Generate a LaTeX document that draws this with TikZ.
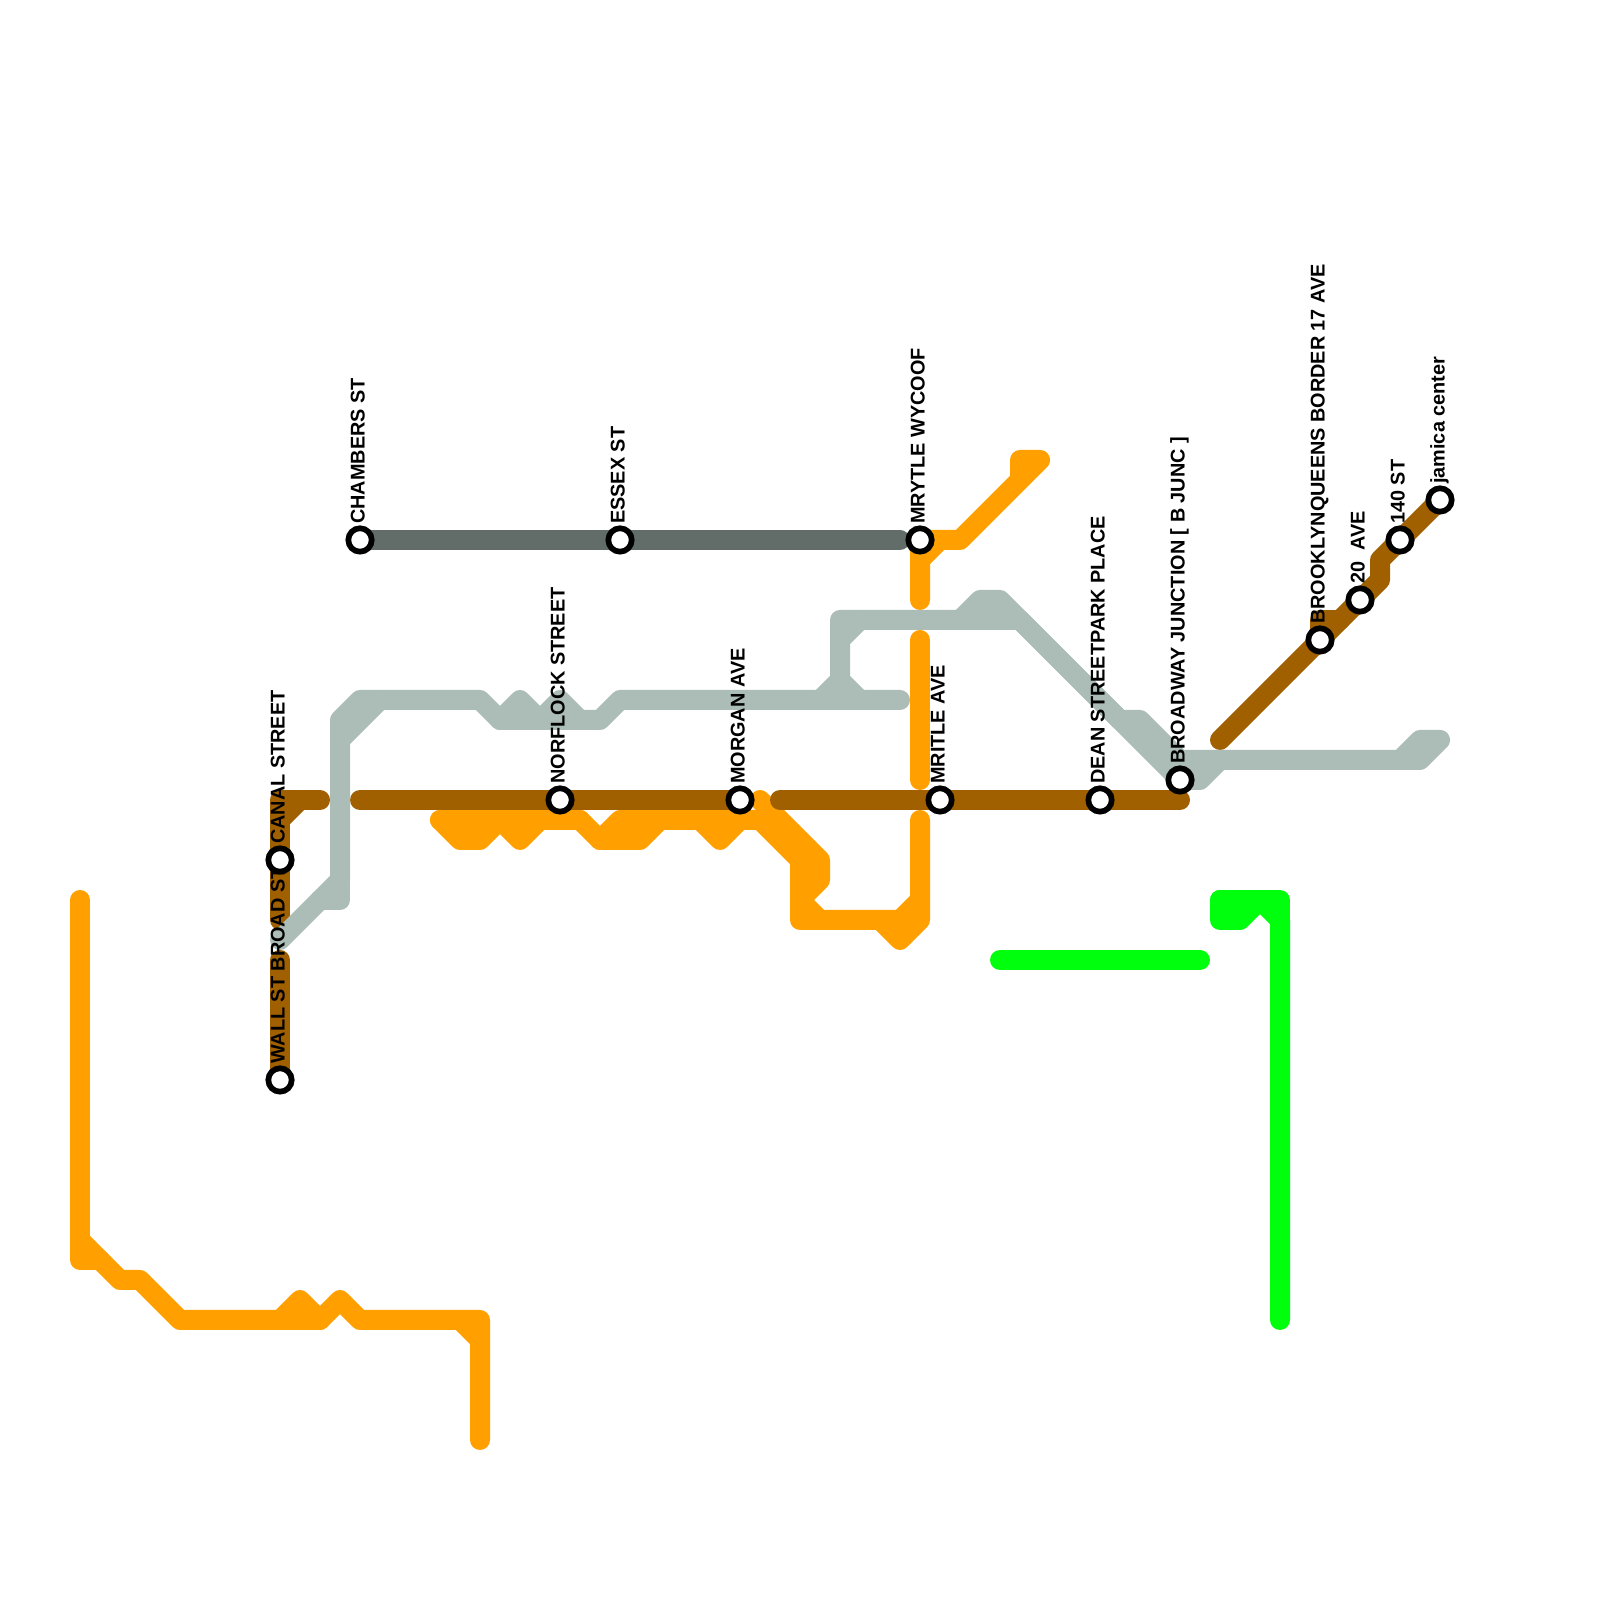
\documentclass[tikz,border=0pt]{standalone}
\usepackage{xcolor}
\usepackage{fontspec}
\setmainfont{Liberation Sans}
\definecolor{lineorange}{HTML}{FFA000}
\definecolor{linebrown}{HTML}{A06000}
\definecolor{linegray}{HTML}{ACBDB8}
\definecolor{linedark}{HTML}{626C69}
\definecolor{linegreen}{HTML}{00FF0C}
\tikzset{
    metro/.style={line width=2mm,line cap=round,line join=round},
    station/.style={circle,draw=black,fill=white,line width=0.57mm,minimum size=2.34mm,inner sep=0pt},
    stationname/.style={rotate=90,anchor=base west,inner sep=0pt,font=\fontsize{5.65}{7}\selectfont\bfseries}
}
\begin{document}
\begin{tikzpicture}
    \useasboundingbox (0,0) rectangle (16,16);
    \draw [metro,lineorange] (1,3.4)--(0.8,3.4)--(0.8,7);
    \draw [metro,lineorange] (0.8,3.6)--(1.2,3.2)--(1.4,3.2)--(1.8,2.8)--(2.8,2.8)--(3,3)--(3.2,2.8)--(3.4,3)--(3.6,2.8)--(4.8,2.8)--(4.8,1.6);
    \draw [metro,lineorange] (2.8,2.8)--(3.2,2.8);
    \draw [metro,lineorange] (4.6,2.8)--(4.8,2.6);
    \draw [metro,lineorange] (4.4,7.8)--(4.6,7.6)--(4.8,7.6)--(5,7.8)--(5.2,7.6)--(5.4,7.8)--(5.8,7.8)--(6,7.6)--(6.2,7.8)--(7.6,7.8);
    \draw [metro,lineorange] (4.4,7.8)--(5.8,7.8);
    \draw [metro,lineorange] (6,7.6)--(6.4,7.6)--(6.6,7.8);
    \draw [metro,lineorange] (7,7.8)--(7.2,7.6)--(7.4,7.8);
    \draw [metro,lineorange] (7.6,8)--(8.2,7.4)--(8.2,7.2)--(8,7);
    \draw [metro,lineorange] (7.6,7.8)--(8,7.4)--(8,6.8)--(8.8,6.8)--(9,6.6)--(9.2,6.8)--(9.2,7.8);
    \draw [metro,lineorange] (8,7)--(8.2,6.8);
    \draw [metro,lineorange] (8.8,6.8)--(9,6.8)--(9.2,7);
    \draw [metro,lineorange] (9.2,10)--(9.2,10.6)--(9.6,10.6)--(10.4,11.4)--(10.2,11.4)--(10.2,11.2);
    \draw [metro,lineorange] (9.2,10.4)--(9.4,10.6);
    \draw [metro,lineorange] (9.2,9.6)--(9.2,8.2);

    \draw [metro,linebrown] (3.2,8)--(2.8,8)--(2.8,6.8);
    \draw [metro,linebrown] (2.8,7.8)--(3,8);
    \draw [metro,linebrown] (2.8,6.4)--(2.8,5.2);
    \draw [metro,linebrown] (3.6,8)--(7.4,8);
    \draw [metro,linebrown] (7.8,8)--(11.8,8);
    \draw [metro,linebrown] (12.2,8.6)--(13.8,10.2)--(13.8,10.4)--(14.4,11);
    \draw [metro,linebrown] (13.2,9.6)--(13.2,9.8)--(13.4,9.8);

    \draw [metro,linegray] (2.8,6.6)--(3.4,7.2)--(3.4,8.8)--(3.6,9)--(4.8,9)--(5,8.8)--(6,8.8)--(6.2,9)--(9,9);
    \draw [metro,linegray] (3.2,7)--(3.4,7)--(3.4,7.2);
    \draw [metro,linegray] (3.4,8.6)--(3.8,9);
    \draw [metro,linegray] (5,8.8)--(5.2,9)--(5.4,8.8)--(5.6,9)--(5.8,8.8);
    \draw [metro,linegray] (8.2,9)--(8.4,9.2)--(8.6,9);
    \draw [metro,linegray] (8.4,9.2)--(8.4,9.8)--(10.2,9.8)--(11.8,8.2)--(12,8.2)--(12.2,8.4);
    \draw [metro,linegray] (8.4,9.6)--(8.6,9.8);
    \draw [metro,linegray] (9.6,9.8)--(9.8,10)--(10,10)--(11.2,8.8)--(11.4,8.8)--(11.8,8.4)--(14.2,8.4)--(14.4,8.6)--(14.2,8.6)--(14,8.4);

    \draw [metro,linedark] (3.6,10.6)--(9,10.6);

    \draw [metro,linegreen] (10,6.4)--(12,6.4);
    \draw [metro,linegreen] (12.2,7)--(12.2,6.8)--(12.4,6.8)--(12.6,7)--(12.8,6.8)--(12.8,2.8);
    \draw [metro,linegreen] (12.2,7)--(12.8,7)--(12.8,6.8);

    \node[station] (S1) at (2.8,5.2) {};
    \node[station] (S2) at (2.8,7.4) {};
    \node[station] (S3) at (3.6,10.6) {};
    \node[station] (S4) at (5.6,8) {};
    \node[station] (S5) at (6.2,10.6) {};
    \node[station] (S6) at (7.4,8) {};
    \node[station] (S7) at (9.2,10.6) {};
    \node[station] (S8) at (9.4,8) {};
    \node[station] (S9) at (11,8) {};
    \node[station] (S10) at (11.8,8.2) {};
    \node[station] (S11) at (13.2,9.6) {};
    \node[station] (S12) at (13.6,10) {};
    \node[station] (S13) at (14,10.6) {};
    \node[station] (S14) at (14.4,11) {};

    \node[stationname] (L1) at ([shift={(0.045,0.155)}]S1.center) {WALL ST BROAD ST};
    \node[stationname] (L2) at ([shift={(0.045,0.155)}]S2.center) {CANAL STREET};
    \node[stationname] (L3) at ([shift={(0.045,0.155)}]S3.center) {CHAMBERS ST};
    \node[stationname] (L4) at ([shift={(0.045,0.155)}]S4.center) {NORFLOCK STREET};
    \node[stationname] (L5) at ([shift={(0.045,0.155)}]S5.center) {ESSEX ST};
    \node[stationname] (L6) at ([shift={(0.045,0.155)}]S6.center) {MORGAN AVE};
    \node[stationname] (L7) at ([shift={(0.045,0.155)}]S7.center) {MRYTLE WYCOOF};
    \node[stationname] (L8) at ([shift={(0.045,0.155)}]S8.center) {MRITLE AVE};
    \node[stationname] (L9) at ([shift={(0.045,0.155)}]S9.center) {DEAN STREETPARK PLACE};
    \node[stationname] (L10) at ([shift={(0.045,0.155)}]S10.center) {BROADWAY JUNCTION [ B JUNC ]};
    \node[stationname] (L11) at ([shift={(0.045,0.155)}]S11.center) {BROOKLYNQUEENS BORDER 17 AVE};
    \node[stationname] (L12) at ([shift={(0.045,0.155)}]S12.center) {20\ \ AVE};
    \node[stationname] (L13) at ([shift={(0.045,0.155)}]S13.center) {140 ST};
    \node[stationname] (L14) at ([shift={(0.045,0.155)}]S14.center) {jamica center};
\end{tikzpicture}
\end{document}
